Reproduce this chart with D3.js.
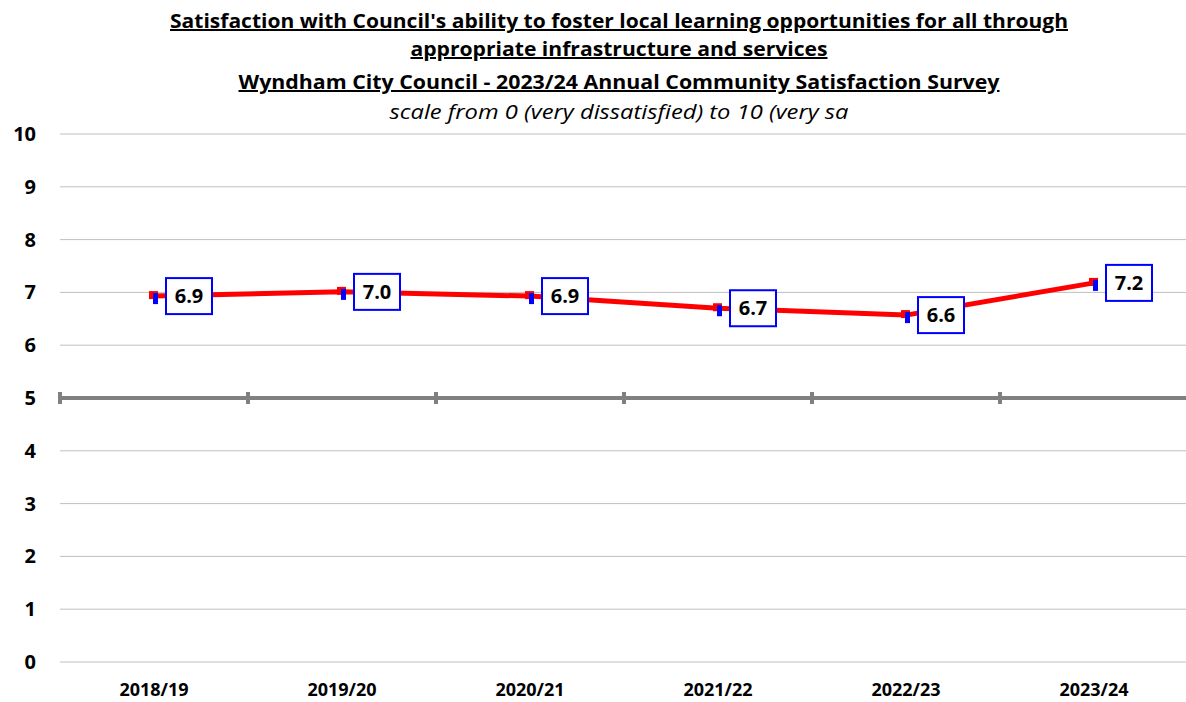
<!DOCTYPE html>
<html><head><meta charset="utf-8">
<script src="https://cdn.jsdelivr.net/npm/d3@7"></script>
<style>body{margin:0;background:#fff}svg{display:block}text{font-family:"Liberation Sans Narrow","Open Sans",sans-serif}</style>
</head><body><svg id="c" width="1186" height="702"></svg>
<script>
const categories = ["2018/19","2019/20","2020/21","2021/22","2022/23","2023/24"];
const values = [6.93, 7.01, 6.93, 6.70, 6.57, 7.18];
const labels = ["6.9","7.0","6.9","6.7","6.6","7.2"];
const yTicks = [0,1,2,3,4,5,6,7,8,9,10];
const titles = [
 "Satisfaction  with Council's ability to foster local  learning opportunities for all through",
 "appropriate  infrastructure  and services",
 "Wyndham City Council - 2023/24 Annual Community Satisfaction  Survey"
];
const subtitle = "scale from 0 (very dissatisfied) to 10 (very sa";

const svg = d3.select("#c");
const x = d3.scaleBand().domain(categories).range([60, 1188]);
const y = d3.scaleLinear().domain([0,10]).range([662,134]);

// title
const tl = [{t:titles[0],y:28,w:898},{t:titles[1],y:56,w:417},{t:titles[2],y:89,w:761}];
tl.forEach(d=>{
  svg.append("text").attr("x",619).attr("y",d.y).attr("text-anchor","middle")
   .attr("font-size",20).attr("font-weight","bold").attr("fill","#000")
   .attr("textLength",d.w).attr("lengthAdjust","spacingAndGlyphs")
   .style("text-decoration","underline").text(d.t);
});
svg.append("text").attr("x",619).attr("y",119).attr("text-anchor","middle")
 .attr("font-size",20).attr("font-style","italic").attr("fill","#000")
 .attr("textLength",459).attr("lengthAdjust","spacingAndGlyphs").text(subtitle);

// gridlines
svg.append("g").selectAll("line").data(yTicks.filter(v=>v!==5)).join("line")
 .attr("x1",60).attr("x2",1186).attr("y1",d=>y(d)).attr("y2",d=>y(d))
 .attr("stroke","#bfbfbf").attr("stroke-width",1);

// y labels
svg.append("g").selectAll("text").data(yTicks).join("text")
 .attr("x",36).attr("y",d=>y(d)+7).attr("text-anchor","end")
 .attr("font-size",20).attr("font-weight","bold").attr("font-family","Open Sans, sans-serif").text(d=>d);

// axis at 5
const axisY = y(5);
svg.append("line").attr("x1",60).attr("x2",1186).attr("y1",axisY).attr("y2",axisY)
 .attr("stroke","#808080").attr("stroke-width",4);
const bounds = categories.map(c=>x(c)).concat([x.range()[1]]);
svg.append("g").selectAll("line").data(bounds).join("line")
 .attr("x1",d=>d).attr("x2",d=>d).attr("y1",axisY-6).attr("y2",axisY+6)
 .attr("stroke","#808080").attr("stroke-width",4);

// x labels
svg.append("g").selectAll("text").data(categories).join("text")
 .attr("x",d=>x(d)+x.bandwidth()/2).attr("y",696).attr("text-anchor","middle")
 .attr("font-size",18).attr("font-weight","bold").attr("font-family","Open Sans, sans-serif").text(d=>d);

// line
const pts = categories.map((c,i)=>({c, v:values[i], l:labels[i]}));
svg.append("path").datum(pts)
 .attr("d", d3.line().x(d=>x(d.c)+x.bandwidth()/2).y(d=>y(d.v)))
 .attr("fill","none").attr("stroke","#ff0000").attr("stroke-width",5).attr("stroke-linejoin","round");

// markers
const m = svg.append("g").selectAll("g").data(pts).join("g")
 .attr("transform",d=>`translate(${x(d.c)+x.bandwidth()/2},${y(d.v)})`);
m.append("rect").attr("x",-5).attr("y",-5).attr("width",9).attr("height",8).attr("fill","#ff0000");
m.append("rect").attr("x",-1).attr("y",-3).attr("width",5).attr("height",11).attr("fill","#0000ff");

// labels
const lb = m.append("g").attr("transform","translate(12,0)");
lb.append("rect").attr("x",0).attr("y",-18).attr("width",46).attr("height",36)
 .attr("fill","#fff").attr("stroke","#0000ff").attr("stroke-width",2);
lb.append("text").attr("x",23).attr("y",7).attr("text-anchor","middle")
 .attr("font-size",20).attr("font-weight","bold").attr("font-family","Open Sans, sans-serif").text(d=>d.l);
</script></body></html>
